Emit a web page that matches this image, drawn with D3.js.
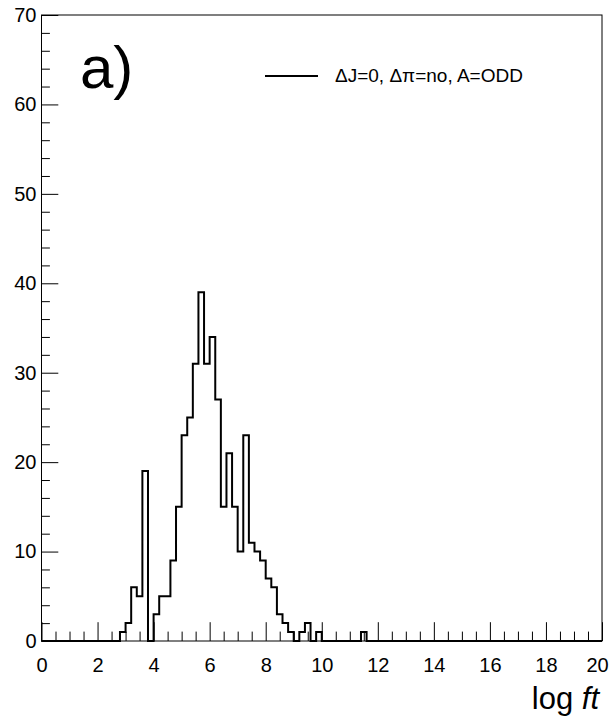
<!DOCTYPE html>
<html>
<head>
<meta charset="utf-8">
<script src="https://cdn.jsdelivr.net/npm/d3@7"></script>
<style>
  html, body { margin: 0; padding: 0; background: #fff; }
  svg { display: block; }
  text { font-family: "Liberation Sans", Arial, Helvetica, sans-serif; fill: #000; }
</style>
</head>
<body>
<svg id="chart" width="614" height="724"></svg>
<script>
// ---- data ----
const binLow = [2.8, 3.0, 3.2, 3.4, 3.6, 3.8, 4.0, 4.2, 4.4, 4.6, 4.8, 5.0, 5.2, 5.4, 5.6, 5.8,
                6.0, 6.2, 6.4, 6.6, 6.8, 7.0, 7.2, 7.4, 7.6, 7.8, 8.0, 8.2, 8.4, 8.6, 8.8,
                9.0, 9.2, 9.4, 9.6, 9.8, 10.0, 10.2, 10.4, 10.6, 10.8, 11.0, 11.2, 11.4];
const counts = [1, 2, 6, 5, 19, 0, 3, 5, 5, 9, 15, 23, 25, 31, 39, 31,
                34, 27, 15, 21, 15, 10, 23, 11, 10, 9, 7, 6, 3, 2, 1,
                0, 1, 2, 0, 1, 0, 0, 0, 0, 0, 0, 0, 1];
const binWidth = 0.2;
const xDomain = [0, 20];
const yDomain = [0, 70];
const xMajorTicks = [0, 2, 4, 6, 8, 10, 12, 14, 16, 18, 20];
const yMajorTicks = [0, 10, 20, 30, 40, 50, 60, 70];
const xMinorStep = 0.5;
const yMinorStep = 2;
const legendLabel = "\u0394J=0, \u0394\u03C0=no, A=ODD";
const panelLabel = "a)";

// ---- layout ----
const L = 41.5, R = 602, T = 15, B = 641;
const svg = d3.select("#chart");
const x = d3.scaleLinear().domain(xDomain).range([L, R]);
const y = d3.scaleLinear().domain(yDomain).range([B, T]);

const xMinor = d3.range(xDomain[0], xDomain[1] + 1e-9, xMinorStep).filter(v => Math.abs(v / 2 - Math.round(v / 2)) > 1e-9);
const yMinor = d3.range(yDomain[0], yDomain[1] + 1e-9, yMinorStep).filter(v => v % 10 !== 0);

// frame
svg.append("rect").attr("x", L).attr("y", T).attr("width", R - L).attr("height", B - T)
  .attr("fill", "none").attr("stroke", "#000").attr("stroke-width", 1);

// x axis
const gx = svg.append("g").attr("transform", `translate(0,${B})`);
gx.call(d3.axisBottom(x).tickValues(xMajorTicks).tickSize(-18.8).tickPadding(17).tickFormat(d3.format("d")));
gx.selectAll(".tick").filter(d => d === xDomain[1]).select("text").attr("dx", -5);
const gxm = svg.append("g").attr("transform", `translate(0,${B})`);
gxm.call(d3.axisBottom(x).tickValues(xMinor).tickSize(-9.4).tickFormat(""));

// y axis
const gy = svg.append("g").attr("transform", `translate(${L},0)`);
gy.call(d3.axisLeft(y).tickValues(yMajorTicks).tickSize(-16.8).tickPadding(5).tickFormat(d3.format("d")));
const gym = svg.append("g").attr("transform", `translate(${L},0)`);
gym.call(d3.axisLeft(y).tickValues(yMinor).tickSize(-8.4).tickFormat(""));

svg.selectAll(".domain").remove();
svg.selectAll(".tick line").attr("stroke", "#000").attr("stroke-width", 1);
svg.selectAll(".tick text").attr("font-size", 20).attr("font-family", '"Liberation Sans", Arial, sans-serif').attr("fill", "#000");

// histogram
const pts = [[xDomain[0], 0]];
binLow.forEach((b, i) => pts.push([b, counts[i]]));
pts.push([binLow[binLow.length - 1] + binWidth, 0]);
pts.push([xDomain[1], 0]);
const line = d3.line().x(d => x(d[0])).y(d => y(d[1])).curve(d3.curveStepAfter);
svg.append("path").attr("d", line(pts)).attr("fill", "none")
  .attr("stroke", "#000").attr("stroke-width", 2).attr("stroke-linejoin", "miter");

// axis title
const title = svg.append("text").attr("x", R - 3).attr("y", 709).attr("text-anchor", "end").attr("font-size", 31);
title.append("tspan").text("log ");
title.append("tspan").attr("font-style", "italic").text("ft");

// panel label
svg.append("text").attr("x", 80).attr("y", 88).attr("font-size", 60).text(panelLabel);

// legend
svg.append("line").attr("x1", 265).attr("x2", 318).attr("y1", 76).attr("y2", 76)
  .attr("stroke", "#000").attr("stroke-width", 2);
svg.append("text").attr("x", 335).attr("y", 82).attr("font-size", 19).text(legendLabel);
</script>
</body>
</html>
